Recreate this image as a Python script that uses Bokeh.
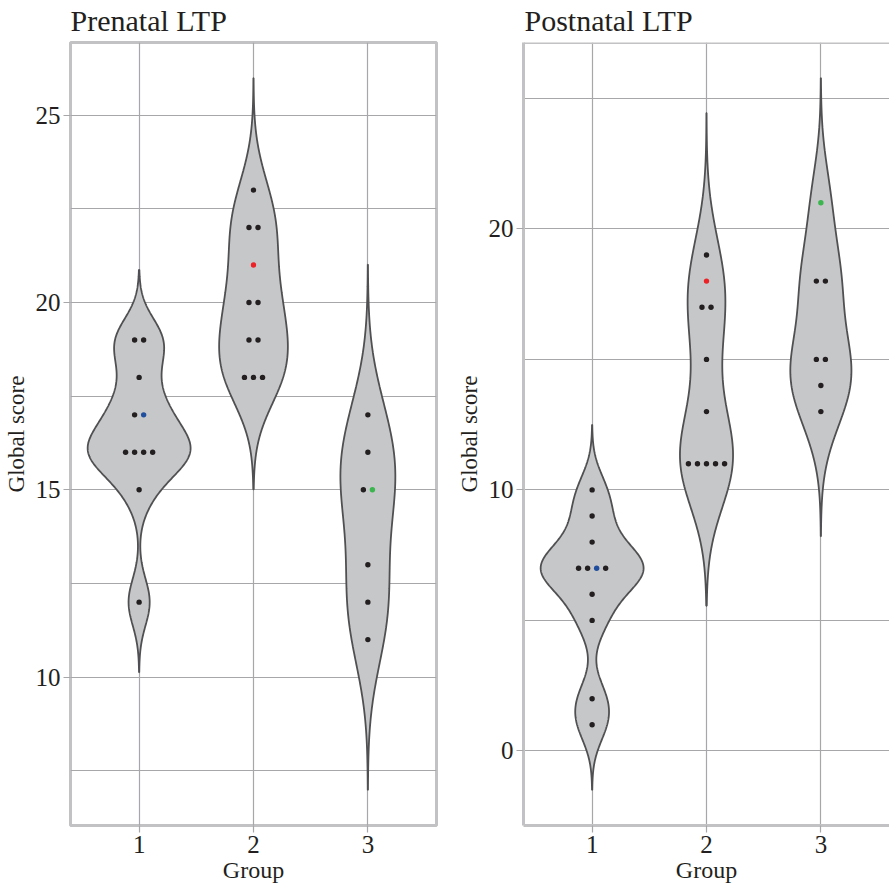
import numpy as np
from bokeh.plotting import figure
from bokeh.layouts import row, column
from bokeh.models import FixedTicker, ColumnDataSource, Range1d, Span
from bokeh.core.properties import value
from bokeh.embed import file_html
from bokeh.resources import INLINE

# ---- data -------------------------------------------------------------
groups = [1, 2, 3]

# Prenatal LTP: global score per participant, by group (listed in stacking order)
pre_g1 = [19, 19, 18, 17, 17, 16, 16, 16, 16, 15, 12]
pre_g2 = [23, 22, 22, 21, 20, 20, 19, 19, 18, 18, 18]
pre_g3 = [17, 16, 15, 15, 13, 12, 11]
pre_marked = [4, 3, 3]          # index of the highlighted participant in each group

# Postnatal LTP
post_g1 = [10, 9, 8, 7, 7, 7, 7, 6, 5, 2, 1]
post_g2 = [19, 18, 17, 17, 15, 13, 11, 11, 11, 11, 11]
post_g3 = [21, 18, 18, 15, 15, 14, 13]
post_marked = [5, 1, 0]

marked_colors = ["#1f4e9e", "#ec2227", "#3bb54e"]

pre_ticks = [10, 15, 20, 25]
pre_minor = [7.5, 12.5, 17.5, 22.5]
post_ticks = [0, 10, 20]
post_minor = [5, 15, 25]

# ---- style ------------------------------------------------------------
FONT = "Liberation Serif"
TXT = "#231f20"
GRID = "#a7a7a9"
BORDER = "#c2c2c4"
VFILL = "#c6c7c9"
VLINE = "#505052"
DOT = "#231f20"
STEP = 0.079          # horizontal spacing of tied dots (data units)
HALF_WIDTH = 0.45     # max half width of the widest violin
X_LO, X_HI = 0.4, 3.6
HEAD_H = 40           # height of the strip that carries the panel titles
BODY_H = 847


def bw_nrd0(v):
    v = np.asarray(v, float)
    sd = v.std(ddof=1)
    q75, q25 = np.percentile(v, [75, 25])
    lo = min(sd, (q75 - q25) / 1.34)
    return 0.9 * lo * len(v) ** -0.2


def kde(v, n=512, cut=3):
    v = np.asarray(v, float)
    bw = bw_nrd0(v)
    grid = np.linspace(v.min() - cut * bw, v.max() + cut * bw, n)
    z = (grid[:, None] - v[None, :]) / bw
    d = np.exp(-0.5 * z ** 2).sum(axis=1) / (len(v) * bw * np.sqrt(2 * np.pi))
    return grid, d


def dot_positions(g, vals):
    counts = {}
    for v in vals:
        counts[v] = counts.get(v, 0) + 1
    seen = {}
    xs = []
    for v in vals:
        j = seen.get(v, 0)
        seen[v] = j + 1
        xs.append(g + (j - (counts[v] - 1) / 2) * STEP)
    return xs


def make_header(title, width, left_pad):
    h = figure(width=width, height=HEAD_H, output_backend="svg", toolbar_location=None,
               x_range=Range1d(0, width), y_range=Range1d(0, HEAD_H),
               x_axis_type=None, y_axis_type=None,
               min_border_left=0, min_border_right=0, min_border_top=0, min_border_bottom=0)
    h.outline_line_color = None
    h.background_fill_color = "white"
    h.border_fill_color = "white"
    h.text(x=[left_pad + 1], y=[HEAD_H / 2], text=[title], text_font=value(FONT),
           text_font_size="30px", text_color=TXT, text_baseline="middle",
           text_align="left")
    return h


def make_panel(data, marked, ticks, minor, width, border_left, border_right, full_outline):
    dens = [kde(v) for v in data]
    dmax = max(d.max() for _, d in dens)
    lo = min(gr.min() for gr, _ in dens)
    hi = max(gr.max() for gr, _ in dens)
    pad = 0.05 * (hi - lo)
    y_lo, y_hi = lo - pad, hi + pad

    p = figure(width=width, height=BODY_H, output_backend="svg", toolbar_location=None,
               x_range=Range1d(X_LO, X_HI), y_range=Range1d(y_lo, y_hi),
               min_border_left=border_left, min_border_right=border_right,
               min_border_top=2, min_border_bottom=62)
    p.background_fill_color = "white"
    p.border_fill_color = "white"

    for ax in (p.xaxis[0], p.yaxis[0]):
        ax.axis_label_text_font = FONT
        ax.axis_label_text_font_style = "normal"
        ax.axis_label_text_color = TXT
        ax.major_label_text_font = FONT
        ax.major_label_text_font_size = "25px"
        ax.major_label_text_color = TXT
        ax.major_tick_line_color = GRID
        ax.major_tick_line_width = 1.2
        ax.major_tick_out = 7
        ax.major_tick_in = 0
        ax.minor_tick_line_color = None
        ax.major_label_standoff = 3
    p.xaxis.axis_label = "Group"
    p.yaxis.axis_label = "Global score"
    p.xaxis.axis_label_text_font_size = "24px"
    p.yaxis.axis_label_text_font_size = "23px"
    p.xaxis.axis_label_standoff = 1
    p.yaxis.axis_label_standoff = 4
    p.xaxis.ticker = FixedTicker(ticks=groups)
    p.yaxis.ticker = FixedTicker(ticks=ticks, minor_ticks=minor)

    p.xgrid.grid_line_color = GRID
    p.ygrid.grid_line_color = GRID
    p.xgrid.grid_line_width = 1.2
    p.ygrid.grid_line_width = 1.2
    p.ygrid.minor_grid_line_color = GRID
    p.ygrid.minor_grid_line_width = 1.2

    if full_outline:
        p.outline_line_color = BORDER
        p.outline_line_width = 3
        p.xaxis.axis_line_color = None
        p.yaxis.axis_line_color = None
    else:
        # open on the right-hand side
        p.outline_line_color = None
        for ax in (p.xaxis[0], p.yaxis[0]):
            ax.axis_line_color = BORDER
            ax.axis_line_width = 3
        p.add_layout(Span(location=y_hi, dimension="width",
                          line_color=BORDER, line_width=3))

    # violins
    for g, (grid, d) in zip(groups, dens):
        hw = HALF_WIDTH * d / dmax
        xs = np.concatenate([g - hw, (g + hw)[::-1]])
        ys = np.concatenate([grid, grid[::-1]])
        p.patch(xs, ys, fill_color=VFILL, line_color=VLINE, line_width=1.8)

    # participants
    for g, vals, m, col in zip(groups, data, marked, marked_colors):
        xs = dot_positions(g, vals)
        colors = [col if i == m else DOT for i in range(len(vals))]
        src = ColumnDataSource(dict(x=xs, y=vals, c=colors))
        p.scatter("x", "y", source=src, size=5.4, fill_color="c", line_color=None)
    return p


left = make_panel([pre_g1, pre_g2, pre_g3], pre_marked,
                  pre_ticks, pre_minor, width=445, border_left=69, border_right=9,
                  full_outline=True)
right = make_panel([post_g1, post_g2, post_g3], post_marked,
                   post_ticks, post_minor, width=444, border_left=78, border_right=0,
                   full_outline=False)
left_head = make_header("Prenatal LTP", 445, 69)
right_head = make_header("Postnatal LTP", 444, 78)

layout = column(row(left_head, right_head), row(left, right))
open("out.html", "w").write(file_html(layout, INLINE))
